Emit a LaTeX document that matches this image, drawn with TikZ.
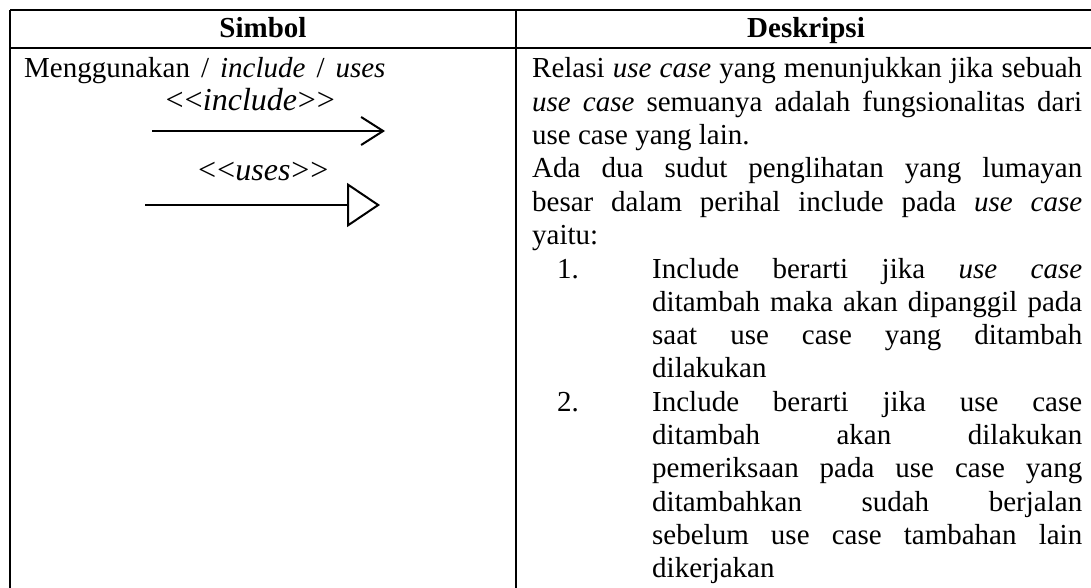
\documentclass[tikz,border=0pt]{standalone}
\usepackage{fontspec}
\usepackage{graphicx}
\setmainfont{Liberation Serif}
\usetikzlibrary{arrows.meta}
\newcommand{\txtsize}{\fontsize{29pt}{33.3pt}\selectfont}
\newcommand{\lblsize}{\fontsize{32pt}{37pt}\selectfont}
\newcommand{\jpar}[2]{\parbox[t]{#1}{\txtsize\tolerance=10000\hyphenpenalty=10000\emergencystretch=0pt #2}}
\newcommand{\ltb}{\makebox[19pt]{<}}
\newcommand{\gtb}{\makebox[19pt]{>}}
\begin{document}
\begin{tikzpicture}[x=1pt,y=-1pt,
  tbl/.style={line width=1.8pt},
  txt/.style={inner sep=0pt,font=\txtsize},
  lbl/.style={inner sep=0pt,font=\lblsize\itshape},
  conn/.style={line width=2pt}]
\useasboundingbox (0,0) rectangle (1091,588);
% table rules
\draw[tbl] (10,10) -- (1091,10);
\draw[tbl] (10,48) -- (1091,48);
\draw[tbl] (10,10) -- (10,588);
\draw[tbl] (516,10) -- (516,588);
% headers
\node[txt,anchor=base] (hs) at (263,38) {\bfseries Simbol};
\node[txt,anchor=base] (hd) at (806,38) {\bfseries Deskripsi};
% left column
\node[txt,anchor=base west] (name) at (24,78) {\spaceskip=11pt Menggunakan / \textit{include} / \textit{uses}};
\node[lbl,anchor=base] (linc) at (250,111) {\ltb\ltb include\gtb\gtb};
\coordinate (ia) at (152,131);
\coordinate (ib) at (385,131);
\draw[conn,-{Straight Barb[length=22pt,width=28pt,line width=2pt]}] (ia) -- (ib);
\node[lbl,anchor=base] (luse) at (263,180) {\ltb\ltb uses\gtb\gtb};
\coordinate (ua) at (145,205);
\coordinate (ub) at (380,205);
\draw[conn,-{Triangle[open,length=33pt,width=44pt,line width=2pt]}] (ua) -- (ub);
% right column
\node[txt,anchor=base west] (p1) at (532,78) {\jpar{550pt}{Relasi \textit{use case} yang menunjukkan jika sebuah\linebreak \textit{use case} semuanya adalah fungsionalitas dari\linebreak use case yang lain.}};
\node[txt,anchor=base west] (p2) at (532,178) {\jpar{550pt}{Ada dua sudut penglihatan yang lumayan\linebreak besar dalam perihal include pada \textit{use case}\linebreak yaitu:}};
\node[txt,anchor=base west] (n1) at (557,278) {1.};
\node[txt,anchor=base west] (i1) at (652,278) {\jpar{430pt}{Include berarti jika \textit{use case}\linebreak ditambah maka akan dipanggil pada\linebreak saat use case yang ditambah\linebreak dilakukan}};
\node[txt,anchor=base west] (n2) at (557,411.3) {2.};
\node[txt,anchor=base west] (i2) at (652,411.3) {\jpar{430pt}{Include berarti jika use case\linebreak ditambah akan dilakukan\linebreak pemeriksaan pada use case yang\linebreak ditambahkan sudah berjalan\linebreak sebelum use case tambahan lain\linebreak dikerjakan}};
\end{tikzpicture}
\end{document}
